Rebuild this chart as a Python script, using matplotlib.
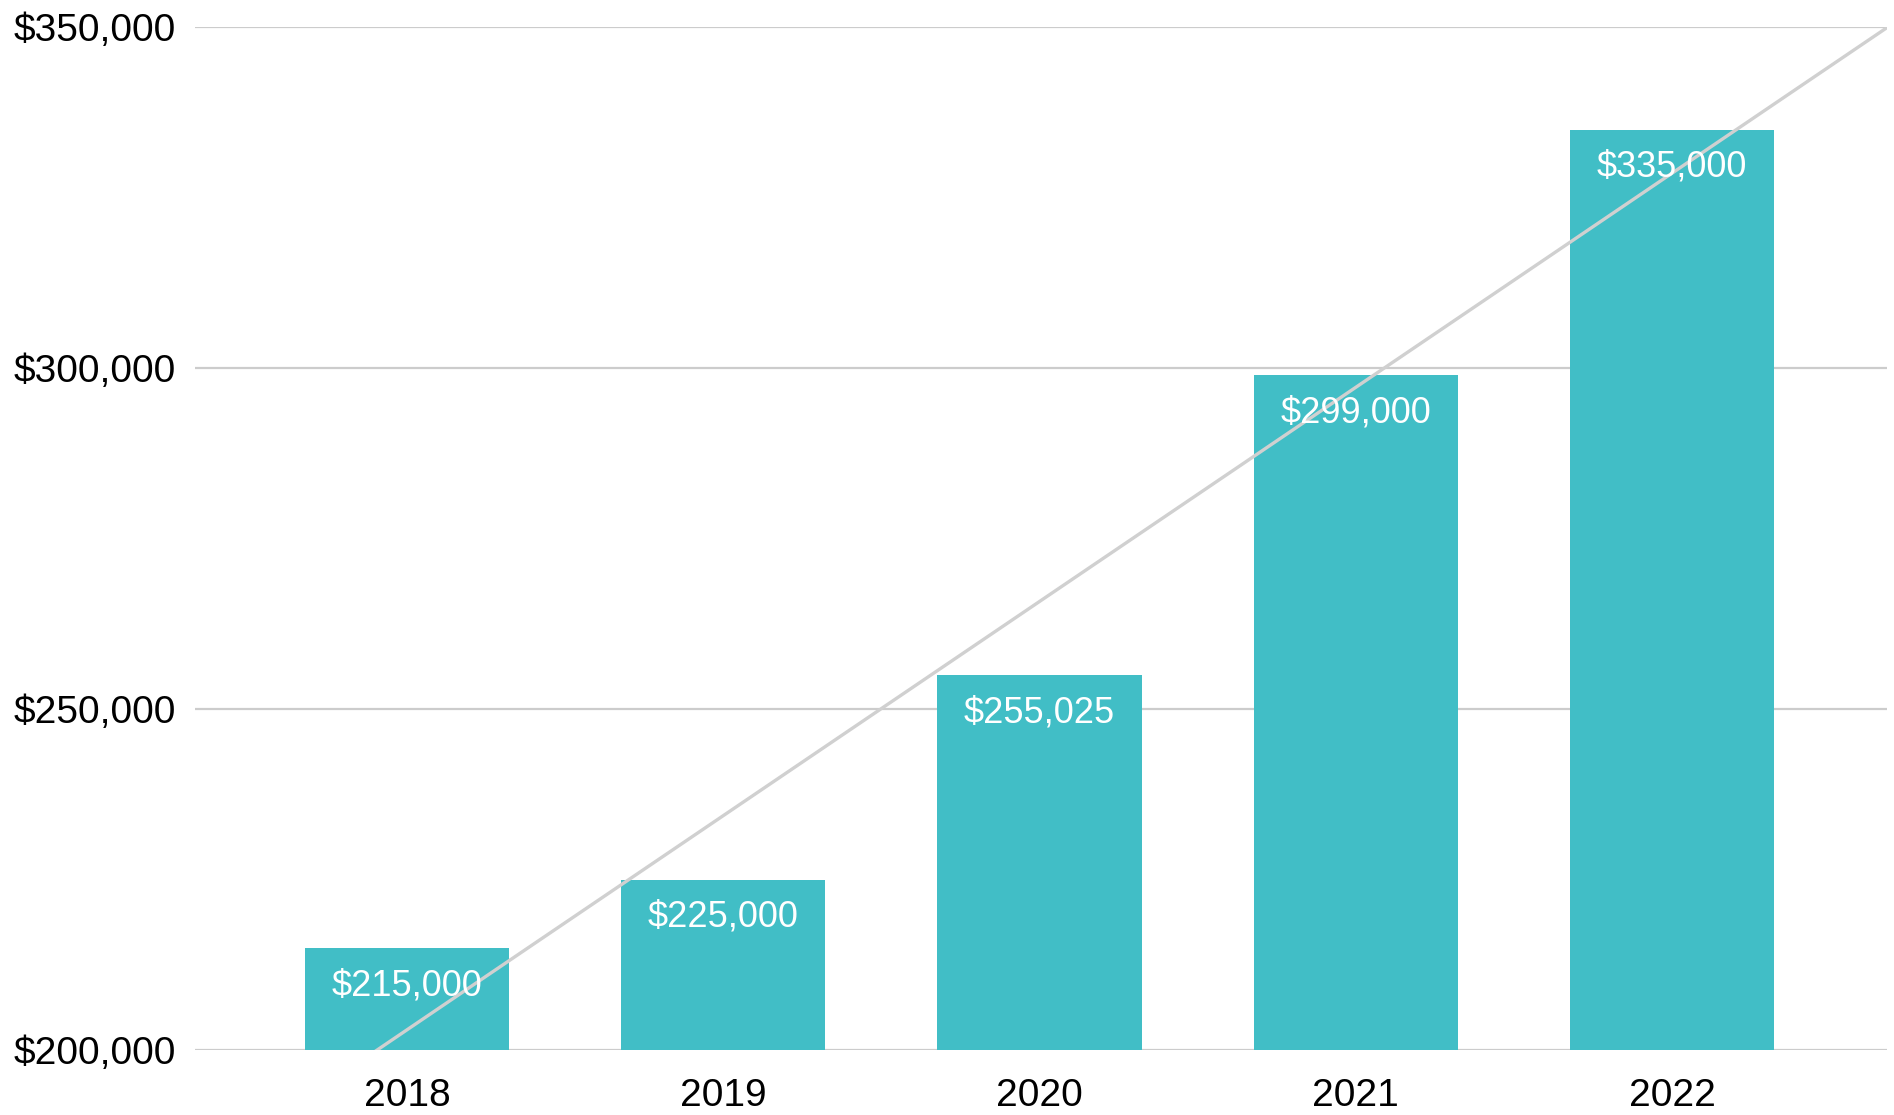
import matplotlib.pyplot as plt
import numpy as np
from matplotlib.ticker import FuncFormatter

years = ["2018", "2019", "2020", "2021", "2022"]
values = [215000, 225000, 255025, 299000, 335000]

plt.rcParams['font.family'] = ['Liberation Sans', 'DejaVu Sans']

fig = plt.figure(figsize=(18.94, 11.15), dpi=100)
ax = fig.add_axes([0.103, 0.058, 0.8933, 0.9175])

x = np.arange(len(years))
ax.bar(x, values, width=0.646, color='#41bec6', zorder=2)

# linear trendline across the whole axis
k, b = np.polyfit(x, values, 1)
xt = np.array([-1.0, 5.0])
ax.plot(xt, k*xt + b, color='#d0d0d0', lw=2.4, zorder=3)

for xi, v in zip(x, values):
    ax.annotate("${:,}".format(v), (xi, v), xytext=(0, -27), textcoords='offset points',
                ha='center', va='center', color='white', fontsize=26, zorder=4)

ax.set_xlim(-0.67, 4.68)
ax.set_ylim(200000, 350000)
ax.set_yticks([200000, 250000, 300000, 350000])
ax.yaxis.set_major_formatter(FuncFormatter(lambda v, p: "${:,.0f}".format(v)))
ax.set_xticks(x)
ax.set_xticklabels(years)
ax.tick_params(axis='both', length=0, labelsize=28, colors='black')
ax.tick_params(axis='x', pad=20)
ax.tick_params(axis='y', pad=14)
ax.grid(axis='y', color='#cccccc', lw=1.6, zorder=0)
ax.set_axisbelow(True)
for s in ax.spines.values():
    s.set_visible(False)

fig.savefig("out.png")
